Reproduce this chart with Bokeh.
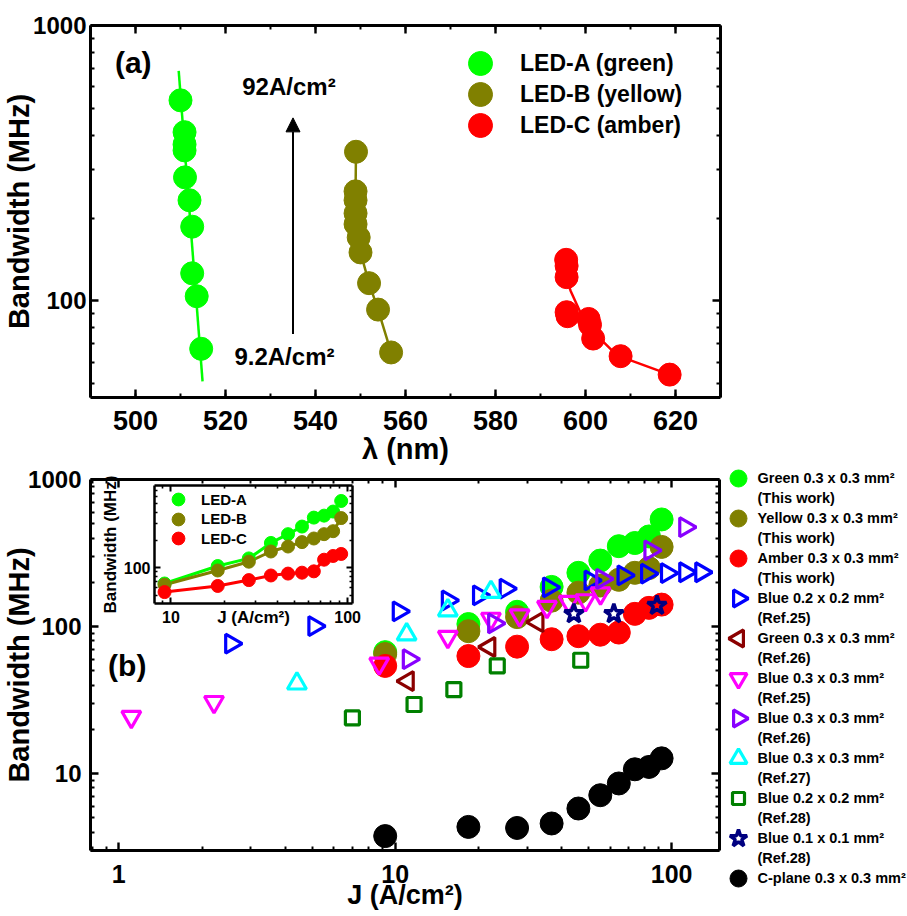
import numpy as np
from bokeh.plotting import figure
from bokeh.models import (LogAxis, LinearAxis, FixedTicker, SingleIntervalTicker, Range1d,
                          PrintfTickFormatter, CustomJSTickFormatter, Legend, LegendItem,
                          Label, Arrow, NormalHead)
from bokeh.embed import file_html
from bokeh.resources import INLINE
from bokeh.core.templates import get_env
from bokeh.core.properties import value

FONT = "Liberation Sans"

# ---------------- data ----------------
J_led = [9.2, 18.4, 27.6, 36.8, 46.0, 55.2, 64.4, 73.6, 82.8, 92.0]
bw_A = [67, 104, 126, 186, 232, 281, 352, 370, 410, 535]
bw_B = [65, 93, 116, 150, 170, 190, 208, 232, 250, 348]
bw_C = [54, 63, 73, 82, 86, 88, 91, 122, 134, 141]
bw_cplane = [3.76, 4.34, 4.27, 4.58, 5.79, 7.13, 8.57, 10.7, 11.1, 12.7]

lam_A = [514.6, 513.6, 512.6, 512.6, 512.0, 511.0, 510.9, 510.9, 510.9, 510.0]
lam_B = [556.8, 553.9, 551.9, 550.0, 549.6, 548.9, 548.9, 548.9, 548.9, 549.0]
lam_C = [618.7, 607.8, 601.7, 601.0, 600.7, 596.0, 595.8, 595.8, 595.8, 595.7]

fit_lam_A = [509.6, 514.9]
fit_bw_A = [684, 51]
fit_lam_C = [595.8, 596.7, 598.9, 601.5, 607.0, 618.7]
fit_bw_C = [120, 108.7, 90.6, 77.9, 63.4, 54]

ref25_b02_J = [2.55, 5.1, 10.3, 15.5, 20.1, 25.1, 36.0, 50.9, 67.0, 81.5, 96.2, 112, 128]
ref25_b02_bw = [76.5, 100.8, 127, 150.6, 163, 181, 185, 206, 223, 229, 231, 234, 234]
ref26_g03_J = [11.1, 21.9, 32.7]
ref26_g03_bw = [42.6, 72.6, 107]
ref25_b03_J = [1.11, 2.21, 8.75, 15.5, 22.2, 28.2, 35.4, 42.4, 48.8, 55.3]
ref25_b03_bw = [24.3, 30.7, 56, 85, 113, 119, 136, 147, 151, 168]
ref26_b03_J = [11.2, 22.8, 56.1, 83.8, 112]
ref26_b03_bw = [60, 105, 211, 330, 474]
ref27_b03_J = [4.41, 11.0, 15.5, 22.2]
ref27_b03_bw = [41, 88.5, 129, 172]
ref28_b02_J = [7.0, 11.7, 16.3, 23.4, 46.9]
ref28_b02_bw = [23.9, 29.5, 37.3, 54, 59]
ref28_b01_J = [44.3, 61.8, 88.5]
ref28_b01_bw = [122, 122, 139]

top_legend_labels = ["LED-A (green)", "LED-B (yellow)", "LED-C (amber)"]
inset_legend_labels = ["LED-A", "LED-B", "LED-C"]
bottom_legend_labels = [
    "Green 0.3 x 0.3 mm\u00b2\n(This work)",
    "Yellow 0.3 x 0.3 mm\u00b2\n(This work)",
    "Amber 0.3 x 0.3 mm\u00b2\n(This work)",
    "Blue 0.2 x 0.2 mm\u00b2\n(Ref.25)",
    "Green 0.3 x 0.3 mm\u00b2\n(Ref.26)",
    "Blue 0.3 x 0.3 mm\u00b2\n(Ref.25)",
    "Blue 0.3 x 0.3 mm\u00b2\n(Ref.26)",
    "Blue 0.3 x 0.3 mm\u00b2\n(Ref.27)",
    "Blue 0.2 x 0.2 mm\u00b2\n(Ref.28)",
    "Blue 0.1 x 0.1 mm\u00b2\n (Ref.28)",
    "C-plane 0.3 x 0.3 mm\u00b2",
]

top_y_major = [100, 1000]
top_y_minor = [50, 60, 70, 80, 90, 200, 300, 400, 500, 600, 700, 800, 900]
bot_x_major = [1, 10, 100]
bot_x_minor = [0.8, 0.9, 2, 3, 4, 5, 6, 7, 8, 9, 20, 30, 40, 50, 60, 70, 80, 90]
bot_y_major = [10, 100, 1000]
bot_y_minor = [3, 4, 5, 6, 7, 8, 9, 20, 30, 40, 50, 60, 70, 80, 90,
               200, 300, 400, 500, 600, 700, 800, 900]
ins_x_major = [10, 100]
ins_x_minor = [9, 20, 30, 40, 50, 60, 70, 80, 90]
ins_y_major = [100]
ins_y_minor = [50, 60, 70, 80, 90, 200, 300, 400, 500, 600, 700]

C_GREEN = "#00ff00"
C_OLIVE = "#808000"
C_RED = "#ff0000"

# marker styles for the bottom panel series (legend order)
SERIES_STYLE = [
    dict(marker="circle", fill_color=C_GREEN, line_color=C_GREEN, line_width=1),
    dict(marker="circle", fill_color=C_OLIVE, line_color=C_OLIVE, line_width=1),
    dict(marker="circle", fill_color=C_RED, line_color=C_RED, line_width=1),
    dict(marker="triangle", angle=-np.pi / 2, fill_color=None, line_color="#0000ff", line_width=3.2),
    dict(marker="triangle", angle=np.pi / 2, fill_color=None, line_color="#8b0000", line_width=3.2),
    dict(marker="inverted_triangle", fill_color=None, line_color="#ff00ff", line_width=3.2),
    dict(marker="triangle", angle=-np.pi / 2, fill_color=None, line_color="#8800ff", line_width=3.2),
    dict(marker="triangle", fill_color=None, line_color="#00ffff", line_width=3.2),
    dict(marker="square", fill_color=None, line_color="#008000", line_width=3.2),
    dict(marker="star", fill_color=None, line_color="#000080", line_width=3.5),
    dict(marker="circle", fill_color="black", line_color="black", line_width=1),
]
PLOT_SIZES = [23, 23, 23, 19, 19, 19, 19, 19, 14, 20, 23]
LEGEND_SIZES = [17, 17, 17, 17, 17, 17, 17, 17, 12, 18, 17]


def style_axis(ax, font_px=24, standoff=5, lw=3, maj=8, mnr=4, labels=True):
    ax.axis_line_width = lw
    ax.axis_line_color = "black"
    ax.major_tick_line_width = lw * 0.8
    ax.minor_tick_line_width = lw * 0.65
    ax.major_tick_line_color = "black"
    ax.minor_tick_line_color = "black"
    ax.major_tick_in = maj
    ax.major_tick_out = 0
    ax.minor_tick_in = mnr
    ax.minor_tick_out = 0
    ax.major_label_text_font = FONT
    ax.major_label_text_font_style = "bold"
    ax.major_label_text_color = "black"
    if labels:
        ax.major_label_text_font_size = f"{font_px}px"
        ax.major_label_standoff = standoff
    else:
        ax.major_label_text_font_size = "1px"
        ax.major_label_standoff = 0
        ax.formatter = CustomJSTickFormatter(code="return ''")


def style_label(ax, text, size_px, standoff):
    ax.axis_label = text
    ax.axis_label_text_font = FONT
    ax.axis_label_text_font_style = "bold"
    ax.axis_label_text_font_size = f"{size_px}px"
    ax.axis_label_text_color = "black"
    ax.axis_label_standoff = standoff


def base_fig(**kw):
    p = figure(output_backend="svg", toolbar_location=None, **kw)
    p.xgrid.grid_line_color = None
    p.ygrid.grid_line_color = None
    p.outline_line_color = None
    p.background_fill_color = "white"
    p.border_fill_color = None
    return p


def one_item_legend(label, renderer, loc, glyph, standoff, font_px):
    return Legend(items=[LegendItem(label=label, renderers=[renderer])],
                  location=loc, glyph_width=glyph[0], glyph_height=glyph[1], spacing=0,
                  label_standoff=standoff, padding=0, margin=0, border_line_color=None,
                  background_fill_alpha=0, label_text_font=FONT, label_text_font_style="bold",
                  label_text_font_size=f"{font_px}px", label_text_color="black")


def text_label(x, y, text, size_px):
    return Label(x=x, y=y, text=text, text_font=FONT, text_font_style="bold",
                 text_font_size=f"{size_px}px", text_align="center", text_baseline="middle",
                 text_color="black")


# ---------------- (a) top panel ----------------
top = base_fig(name="top", width=730, height=478, y_axis_type="log",
               x_range=Range1d(490, 630), y_range=Range1d(44.6, 1000),
               min_border_left=89, min_border_right=10, min_border_top=25, min_border_bottom=81)

top.xaxis.ticker = SingleIntervalTicker(interval=20, num_minor_ticks=2)
top.xaxis.formatter = PrintfTickFormatter(format="%d")
style_axis(top.xaxis[0], font_px=27, standoff=13)
style_label(top.xaxis[0], "\u03bb (nm)", 29, 0)
top.yaxis.ticker = FixedTicker(ticks=top_y_major, minor_ticks=top_y_minor)
top.yaxis.formatter = PrintfTickFormatter(format="%d")
style_axis(top.yaxis[0], font_px=24, standoff=4)
style_label(top.yaxis[0], "Bandwidth (MHz)", 29, -5)

ax_t = LinearAxis(ticker=SingleIntervalTicker(interval=20, num_minor_ticks=2))
style_axis(ax_t, labels=False)
top.add_layout(ax_t, "above")
ax_r = LogAxis(ticker=FixedTicker(ticks=top_y_major, minor_ticks=top_y_minor))
style_axis(ax_r, labels=False)
top.add_layout(ax_r, "right")

top.line(fit_lam_A, fit_bw_A, line_color=C_GREEN, line_width=2.5)
top.line(lam_B, bw_B, line_color=C_OLIVE, line_width=2.5)
top.line(fit_lam_C, fit_bw_C, line_color=C_RED, line_width=2.5)
tA = top.scatter(lam_A, bw_A, size=23, color=C_GREEN)
tB = top.scatter(lam_B, bw_B, size=23, color=C_OLIVE)
tC = top.scatter(lam_C, bw_C, size=23, color=C_RED)

for i, (lab, r) in enumerate(zip(top_legend_labels, [tA, tB, tC])):
    top.add_layout(one_item_legend(lab, r, (360, 304 - 31 * i), (60, 60), 10, 23))

top.add_layout(text_label(499.5, 731, "(a)", 30))
top.add_layout(text_label(534.1, 600, "92A/cm\u00b2", 24))
top.add_layout(text_label(533.1, 63, "9.2A/cm\u00b2", 24))
top.add_layout(Arrow(end=NormalHead(size=14, fill_color="black", line_color="black", line_width=1),
                     x_start=535, y_start=75.9, x_end=535, y_end=462, line_width=2,
                     line_color="black"))

# ---------------- (b) bottom panel ----------------
bot = base_fig(name="bottom", width=907, height=466, x_axis_type="log", y_axis_type="log",
               x_range=Range1d(0.79, 149), y_range=Range1d(3.0, 1000),
               min_border_left=89, min_border_right=188, min_border_top=29, min_border_bottom=66)
bot.xaxis.ticker = FixedTicker(ticks=bot_x_major, minor_ticks=bot_x_minor)
bot.xaxis.formatter = PrintfTickFormatter(format="%d")
style_axis(bot.xaxis[0], font_px=25, standoff=14)
style_label(bot.xaxis[0], "J (A/cm\u00b2)", 27, -6)
bot.yaxis.ticker = FixedTicker(ticks=bot_y_major, minor_ticks=bot_y_minor)
bot.yaxis.formatter = PrintfTickFormatter(format="%d")
style_axis(bot.yaxis[0], font_px=24, standoff=9)
style_label(bot.yaxis[0], "Bandwidth (MHz)", 29, -10)
bx_t = LogAxis(ticker=FixedTicker(ticks=bot_x_major, minor_ticks=bot_x_minor))
style_axis(bx_t, labels=False)
bot.add_layout(bx_t, "above")
bx_r = LogAxis(ticker=FixedTicker(ticks=bot_y_major, minor_ticks=bot_y_minor))
style_axis(bx_r, labels=False)
bot.add_layout(bx_r, "right")

series_xy = [
    (J_led, bw_A), (J_led, bw_B), (J_led, bw_C),
    (ref25_b02_J, ref25_b02_bw), (ref26_g03_J, ref26_g03_bw), (ref25_b03_J, ref25_b03_bw),
    (ref26_b03_J, ref26_b03_bw), (ref27_b03_J, ref27_b03_bw), (ref28_b02_J, ref28_b02_bw),
    (ref28_b01_J, ref28_b01_bw), (J_led, bw_cplane),
]
for (xs, ys), st, sz in zip(series_xy, SERIES_STYLE, PLOT_SIZES):
    bot.scatter(xs, ys, size=sz, **st)

bot.add_layout(text_label(1.073, 54.2, "(b)", 30))

# ---------------- key of panel (b), beside its frame ----------------
# one row per series: marker and label placed by the row index
legf = figure(name="legend", width=207, height=461,
              x_range=Range1d(-38, 169), y_range=Range1d(10.95, -0.575),
              x_axis_location=None, y_axis_location=None, output_backend="svg",
              toolbar_location=None, min_border=0)
legf.xgrid.grid_line_color = None
legf.ygrid.grid_line_color = None
legf.outline_line_color = None
legf.background_fill_color = None
legf.border_fill_color = None
row_idx = list(range(len(bottom_legend_labels)))
for i, (st, sz) in enumerate(zip(SERIES_STYLE, LEGEND_SIZES)):
    legf.scatter([0], [row_idx[i]], size=sz, **st)
legf.text(x=[0] * len(row_idx), y=row_idx, text=bottom_legend_labels,
          x_offset=19, y_offset=-9, text_baseline="top", text_align="left",
          text_font=value(FONT), text_font_style="bold", text_font_size="14.5px",
          text_line_height=1.25, text_color="black")

# ---------------- inset ----------------
inset = base_fig(name="inset", width=278, height=183, x_axis_type="log", y_axis_type="log",
                 x_range=Range1d(8.07, 106.6), y_range=Range1d(40.5, 790),
                 min_border_left=70, min_border_right=10, min_border_top=20, min_border_bottom=45)
inset.xaxis.ticker = FixedTicker(ticks=ins_x_major, minor_ticks=ins_x_minor)
inset.xaxis.formatter = PrintfTickFormatter(format="%d")
style_axis(inset.xaxis[0], font_px=16, standoff=7, lw=2.5, maj=6, mnr=3)
style_label(inset.xaxis[0], "J (A/cm\u00b2)", 17, -18)
inset.yaxis.ticker = FixedTicker(ticks=ins_y_major, minor_ticks=ins_y_minor)
inset.yaxis.formatter = PrintfTickFormatter(format="%d")
style_axis(inset.yaxis[0], font_px=16, standoff=4, lw=2.5, maj=6, mnr=3)
style_label(inset.yaxis[0], "Bandwidth (MHz)", 17, 1)
ix_t = LogAxis(ticker=FixedTicker(ticks=ins_x_major, minor_ticks=ins_x_minor))
style_axis(ix_t, lw=2.5, maj=6, mnr=3, labels=False)
inset.add_layout(ix_t, "above")
ix_r = LogAxis(ticker=FixedTicker(ticks=ins_y_major, minor_ticks=ins_y_minor))
style_axis(ix_r, lw=2.5, maj=6, mnr=3, labels=False)
inset.add_layout(ix_r, "right")

inset.line(J_led, bw_A, line_color=C_GREEN, line_width=3)
inset.line(J_led, bw_B, line_color=C_OLIVE, line_width=3)
inset.line(J_led, bw_C, line_color=C_RED, line_width=3)
iA = inset.scatter(J_led, bw_A, size=13, color=C_GREEN)
iB = inset.scatter(J_led, bw_B, size=13, color=C_OLIVE)
iC = inset.scatter(J_led, bw_C, size=13, color=C_RED)
for i, (lab, r) in enumerate(zip(inset_legend_labels, [iA, iB, iC])):
    inset.add_layout(one_item_legend(lab, r, (8, 88 - 19.7 * i), (32, 32), 7, 15))

# ---------------- page ----------------
body = """
{% block postamble %}
<style>
html, body { margin: 0 !important; padding: 0 !important; background: white; }
.wrap { position: relative; width: 907px; height: 916px; overflow: hidden; }
.pane { position: absolute; }
</style>
{% endblock %}
{% block contents %}
{% from macros import embed %}
<div class="wrap">
<div class="pane" style="left:0px; top:0px;">{{ embed(roots.top) }}</div>
<div class="pane" style="left:0px; top:450px;">{{ embed(roots.bottom) }}</div>
<div class="pane" style="left:84px; top:465px;">{{ embed(roots.inset) }}</div>
<div class="pane" style="left:700px; top:455px;">{{ embed(roots.legend) }}</div>
</div>
{% endblock %}
"""
template = get_env().from_string("{% extends base %}\n" + body)
p = [top, bot, inset, legf]
open("out.html", "w").write(file_html(p, INLINE, title="Bandwidth", template=template))
